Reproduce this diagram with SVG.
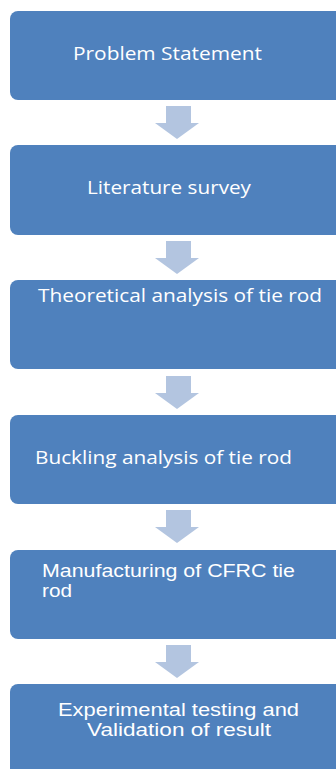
<svg xmlns="http://www.w3.org/2000/svg" width="336" height="769" viewBox="0 0 336 769">
<defs>
<style>
.box{fill:#4F81BD;}
.arr{fill:#B3C5E0;}
.t{font-family:"Open Sans","Liberation Sans",sans-serif;font-size:19px;fill:#FFFFFF;}
.t2{font-family:"Liberation Sans",Arial,sans-serif;font-size:17.5px;fill:#FFFFFF;}
</style>
<path id="arrow" d="M166,0 H191 V17 H199 L177,33 L155,17 H166 Z"/>
</defs>
<rect width="336" height="769" fill="#FFFFFF"/>
<g id="connectors">
<use href="#arrow" class="arr" y="106"/>
<use href="#arrow" class="arr" y="241"/>
<use href="#arrow" class="arr" y="376"/>
<use href="#arrow" class="arr" y="510"/>
<use href="#arrow" class="arr" y="645"/>
</g>
<g id="n1"><rect class="box" x="10" y="11" width="340" height="89" rx="8"/>
<text class="t" x="73" y="60" textLength="189" lengthAdjust="spacingAndGlyphs">Problem Statement</text></g>
<g id="n2"><rect class="box" x="10" y="145" width="340" height="90" rx="8"/>
<text class="t" x="87" y="194" textLength="164" lengthAdjust="spacingAndGlyphs">Literature survey</text></g>
<g id="n3"><rect class="box" x="10" y="280" width="340" height="89" rx="8"/>
<text class="t" x="38" y="302" textLength="284" lengthAdjust="spacingAndGlyphs">Theoretical analysis of tie rod</text></g>
<g id="n4"><rect class="box" x="10" y="415" width="340" height="89" rx="8"/>
<text class="t" x="35" y="464" textLength="257" lengthAdjust="spacingAndGlyphs">Buckling analysis of tie rod</text></g>
<g id="n5"><rect class="box" x="10" y="550" width="340" height="89" rx="8"/>
<text class="t2" x="42" y="577" textLength="253" lengthAdjust="spacingAndGlyphs">Manufacturing of CFRC tie</text>
<text class="t2" x="42" y="597" textLength="30" lengthAdjust="spacingAndGlyphs">rod</text></g>
<g id="n6"><rect class="box" x="10" y="684" width="340" height="100" rx="8"/>
<text class="t2" x="58" y="716" textLength="241" lengthAdjust="spacingAndGlyphs">Experimental testing and</text>
<text class="t2" x="87" y="736" textLength="184" lengthAdjust="spacingAndGlyphs">Validation of result</text></g>
</svg>
